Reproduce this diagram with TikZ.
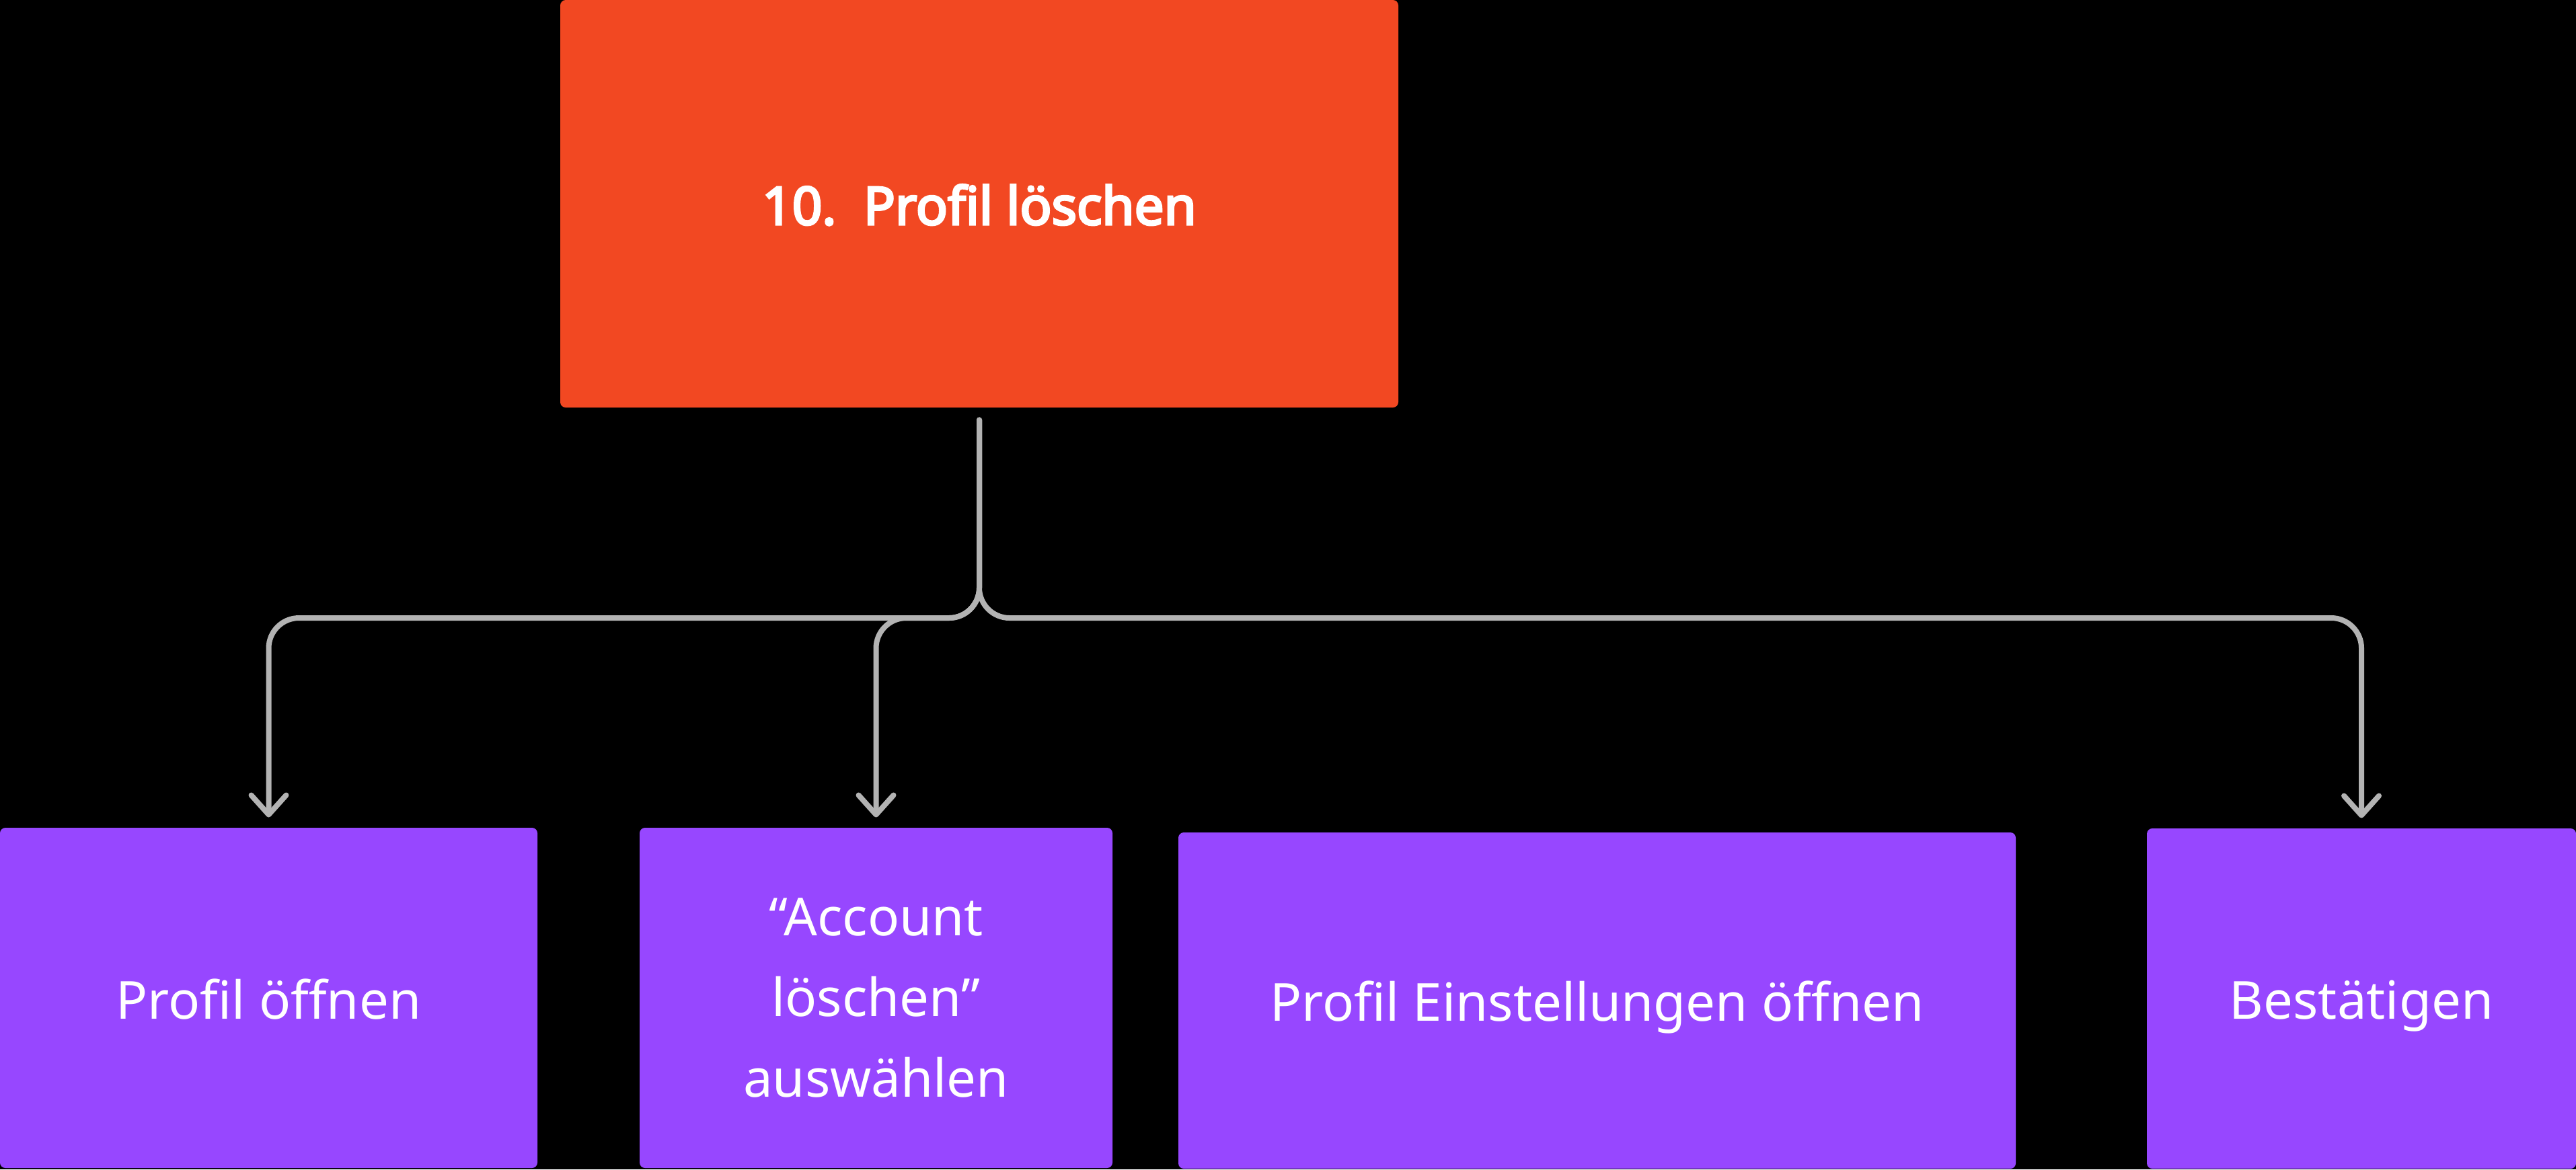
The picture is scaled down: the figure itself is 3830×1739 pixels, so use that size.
\documentclass[tikz,border=0pt]{standalone}
\usepackage{fontspec}
\setmainfont{Noto Sans}
\newfontfamily\headfont{Noto Sans}[FakeBold=4.2]
\usetikzlibrary{arrows.meta}

\definecolor{stepOrange}{HTML}{F24822}
\definecolor{stepPurple}{HTML}{9747FF}
\definecolor{linkGray}{HTML}{B3B3B3}

\tikzset{every picture/.style={line width=0.75pt}}
\tikzset{
  head/.style={fill=stepOrange, rounded corners=2pt, text=white, inner sep=0pt,
    font=\headfont\fontsize{19.5}{30}\selectfont, minimum width=311.5pt, minimum height=151.5pt,
    text height=15.5pt, text depth=0pt},
  leaf/.style={fill=stepPurple, rounded corners=2pt, text=white, inner sep=0pt,
    font=\fontsize{19.5}{30}\selectfont, minimum height=126.5pt, align=center},
  link/.style={draw=linkGray, line width=2pt, rounded corners=11.25pt, line cap=round,
    shorten <=4.25pt, shorten >=3.5pt, -{Straight Barb[length=7.25pt, width=13pt, round]}},
}

\begin{document}
\begin{tikzpicture}[x=0.25pt,y=0.25pt,yscale=-1,xscale=1]
    %Background
    \fill[black] (0,0) rectangle (3830,1739);
    \useasboundingbox (0,0) rectangle (3830,1739);

    %Shape: Rectangle [delete]
    \node[head] (delete) at (1456,303) {10.\ \ Profil löschen};

    %Shape: Rectangle [open]
    \node[leaf, minimum width=199.75pt, text height=15.5pt, text depth=0pt] (open) at (399.5,1484) {Profil öffnen};
    %Shape: Rectangle [account]
    \node[leaf, minimum width=175.75pt] (account) at (1302.5,1484) {“Account\\löschen”\\auswählen};
    %Shape: Rectangle [settings]
    \node[leaf, minimum width=311.25pt, minimum height=125pt, text height=15pt, text depth=0pt] (settings) at (2374.5,1488) {Profil Einstellungen öffnen};
    %Shape: Rectangle [confirm]
    \node[leaf, minimum width=159.5pt, text height=15pt, text depth=0pt] (confirm) at (3511,1485) {Bestätigen};

    %Connectors
    \coordinate (fork) at (1456,919);
    \draw[link] (delete.south) -- (fork) -| (open.north);
    \draw[link] (delete.south) -- (fork) -| (account.north);
    \draw[link] (delete.south) -- (fork) -| (confirm.north);

\end{tikzpicture}
\end{document}
